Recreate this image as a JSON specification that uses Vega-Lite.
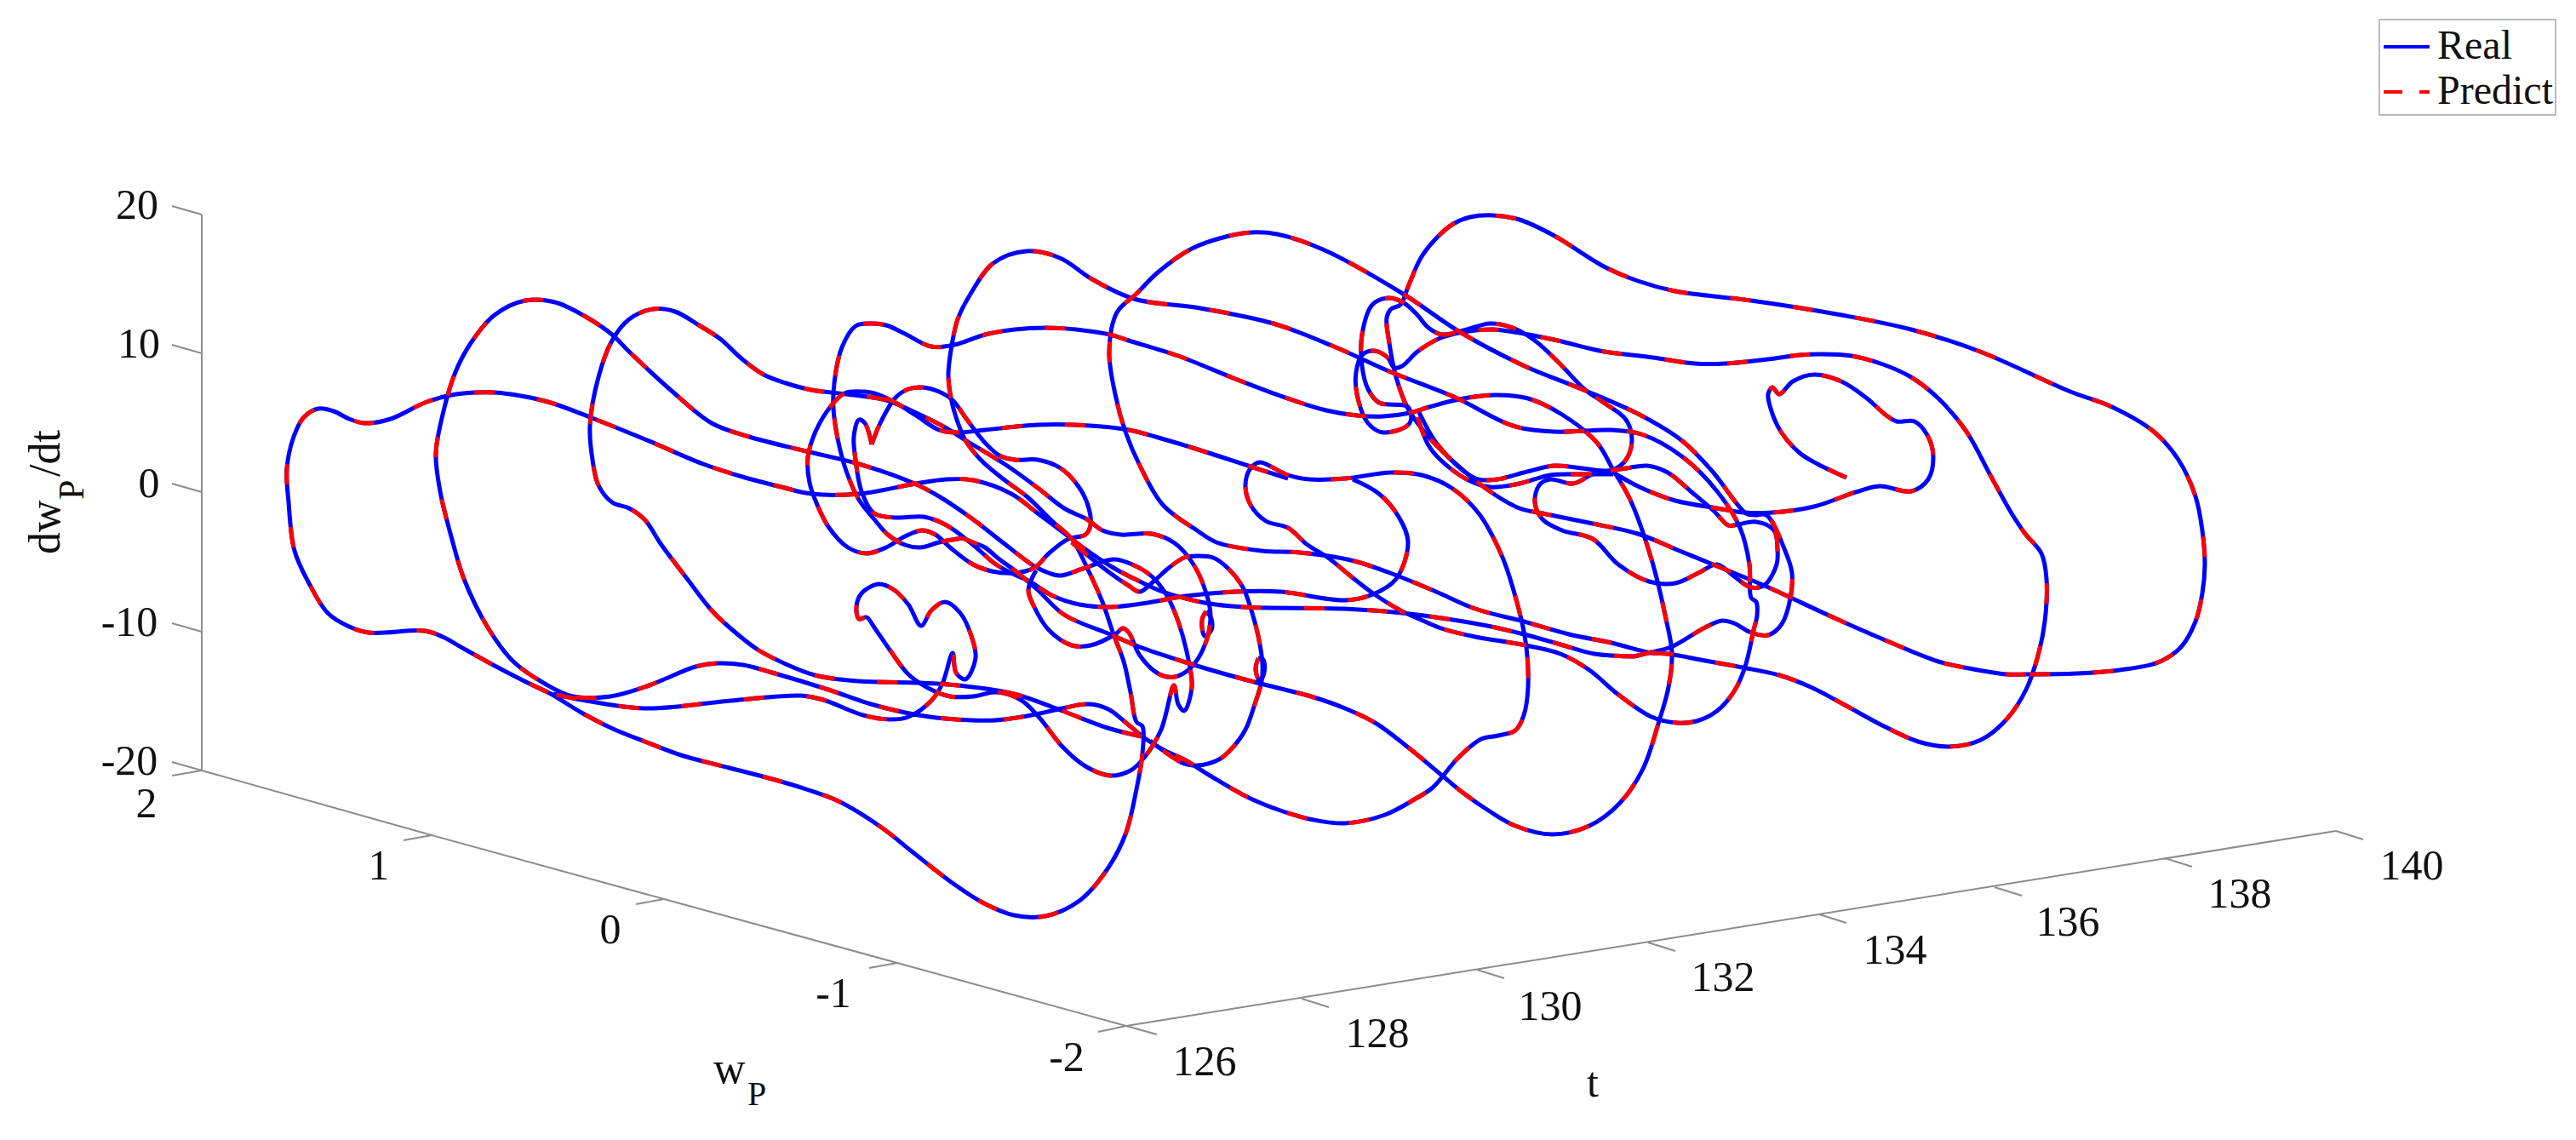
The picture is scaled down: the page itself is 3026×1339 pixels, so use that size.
{"$schema":"https://vega.github.io/schema/vega-lite/v6.json","width":3026,"height":1339,"padding":0,"autosize":{"type":"fit","contains":"padding"},"background":"white","config":{"view":{"stroke":null}},
"datasets":{"curve":[
{"s":"a","x":1920,"y":771},{"s":"a","x":1873,"y":768},{"s":"a","x":1833,"y":757},{"s":"a","x":1790,"y":745},{"s":"a","x":1747,"y":735},{"s":"a","x":1700,"y":727},{"s":"a","x":1647,"y":720},{"s":"a","x":1579,"y":715},{"s":"a","x":1460,"y":713},{"s":"a","x":1415,"y":708},{"s":"a","x":1366,"y":695},{"s":"a","x":1339,"y":683},{"s":"a","x":1308,"y":667},{"s":"a","x":1272,"y":643},{"s":"a","x":1255,"y":630},{"s":"a","x":1219,"y":603},{"s":"a","x":1188,"y":580},{"s":"a","x":1143,"y":564},{"s":"a","x":1112,"y":563},{"s":"a","x":1076,"y":568},{"s":"a","x":1010,"y":580},{"s":"a","x":953,"y":580},{"s":"a","x":918,"y":572},{"s":"a","x":872,"y":560},{"s":"a","x":826,"y":545},{"s":"a","x":760,"y":517},{"s":"a","x":693,"y":490},{"s":"a","x":647,"y":473},{"s":"a","x":612,"y":465},{"s":"a","x":581,"y":461},{"s":"a","x":558,"y":461},{"s":"a","x":530,"y":464},{"s":"a","x":499,"y":473},{"s":"a","x":459,"y":492},{"s":"a","x":428,"y":497},{"s":"a","x":410,"y":492},{"s":"a","x":392,"y":483},{"s":"a","x":374,"y":480},{"s":"a","x":357,"y":490},{"s":"a","x":345,"y":513},{"s":"a","x":337,"y":550},{"s":"a","x":339,"y":590},{"s":"a","x":346,"y":647},{"s":"a","x":364,"y":687},{"s":"a","x":385,"y":720},{"s":"a","x":408,"y":735},{"s":"a","x":433,"y":743},{"s":"a","x":499,"y":741},{"s":"a","x":520,"y":748},{"s":"a","x":545,"y":762},{"s":"a","x":583,"y":783},{"s":"a","x":622,"y":803},{"s":"a","x":647,"y":815},{"s":"a","x":683,"y":837},{"s":"a","x":720,"y":856},{"s":"a","x":760,"y":872},{"s":"a","x":800,"y":887},{"s":"a","x":857,"y":902},{"s":"a","x":907,"y":915},{"s":"a","x":947,"y":927},{"s":"a","x":987,"y":942},{"s":"a","x":1037,"y":973},{"s":"a","x":1071,"y":1000},{"s":"a","x":1120,"y":1038},{"s":"a","x":1154,"y":1060},{"s":"a","x":1191,"y":1075},{"s":"a","x":1228,"y":1076},{"s":"a","x":1268,"y":1058},{"s":"a","x":1300,"y":1022},{"s":"a","x":1322,"y":980},{"s":"a","x":1335,"y":927},{"s":"a","x":1342,"y":885},{"s":"a","x":1342,"y":853},{"s":"a","x":1335,"y":848},{"s":"a","x":1328,"y":813},{"s":"a","x":1320,"y":777},{"s":"a","x":1308,"y":745},{"s":"a","x":1295,"y":707},{"s":"a","x":1277,"y":667},{"s":"a","x":1259,"y":633},{"s":"a","x":1237,"y":613},{"s":"a","x":1206,"y":583},{"s":"a","x":1179,"y":563},{"s":"a","x":1152,"y":540},{"s":"a","x":1134,"y":517},{"s":"a","x":1123,"y":490},{"s":"a","x":1117,"y":467},{"s":"a","x":1114,"y":440},{"s":"a","x":1119,"y":400},{"s":"a","x":1125,"y":375},{"s":"a","x":1139,"y":347},{"s":"a","x":1167,"y":309},{"s":"a","x":1206,"y":295},{"s":"a","x":1245,"y":303},{"s":"a","x":1283,"y":328},{"s":"a","x":1332,"y":351},{"s":"a","x":1410,"y":362},{"s":"a","x":1496,"y":380},{"s":"a","x":1567,"y":407},{"s":"a","x":1634,"y":437},{"s":"a","x":1710,"y":467},{"s":"a","x":1777,"y":500},{"s":"a","x":1826,"y":507},{"s":"a","x":1892,"y":505},{"s":"a","x":1928,"y":510},{"s":"a","x":1977,"y":537},{"s":"a","x":2017,"y":577},{"s":"a","x":2044,"y":620},{"s":"a","x":2055,"y":663},{"s":"a","x":2057,"y":702},{"s":"a","x":2063,"y":707},{"s":"a","x":2064,"y":723},{"s":"a","x":2060,"y":740},{"s":"a","x":2050,"y":783},{"s":"a","x":2037,"y":812},{"s":"a","x":2017,"y":835},{"s":"a","x":1993,"y":847},{"s":"a","x":1970,"y":849},{"s":"a","x":1940,"y":842},{"s":"a","x":1900,"y":815},{"s":"a","x":1867,"y":787},{"s":"a","x":1833,"y":768},{"s":"a","x":1787,"y":757},{"s":"a","x":1733,"y":748},{"s":"a","x":1693,"y":738},{"s":"a","x":1667,"y":727},{"s":"a","x":1647,"y":718},{"s":"a","x":1613,"y":697},{"s":"a","x":1587,"y":677},{"s":"a","x":1560,"y":655},{"s":"a","x":1536,"y":640},{"s":"a","x":1513,"y":620},{"s":"a","x":1487,"y":612},{"s":"a","x":1469,"y":593},{"s":"a","x":1463,"y":570},{"s":"a","x":1469,"y":550},{"s":"a","x":1480,"y":543},{"s":"a","x":1491,"y":547},{"s":"a","x":1513,"y":558},{"s":"a","x":1538,"y":563},{"s":"a","x":1580,"y":562},{"s":"a","x":1634,"y":555},{"s":"a","x":1670,"y":558},{"s":"a","x":1705,"y":573},{"s":"a","x":1737,"y":603},{"s":"a","x":1763,"y":650},{"s":"a","x":1777,"y":690},{"s":"a","x":1792,"y":753},{"s":"a","x":1795,"y":807},{"s":"a","x":1790,"y":840},{"s":"a","x":1780,"y":858},{"s":"a","x":1760,"y":864},{"s":"a","x":1740,"y":868},{"s":"a","x":1713,"y":890},{"s":"a","x":1683,"y":925},{"s":"a","x":1663,"y":938},{"s":"a","x":1627,"y":957},{"s":"a","x":1580,"y":967},{"s":"a","x":1543,"y":963},{"s":"a","x":1507,"y":953},{"s":"a","x":1467,"y":937},{"s":"a","x":1423,"y":912},{"s":"a","x":1391,"y":892},{"s":"a","x":1369,"y":882},{"s":"a","x":1346,"y":868},{"s":"a","x":1324,"y":850},{"s":"a","x":1302,"y":833},{"s":"a","x":1279,"y":827},{"s":"a","x":1248,"y":832},{"s":"a","x":1212,"y":840},{"s":"a","x":1169,"y":846},{"s":"a","x":1123,"y":845},{"s":"a","x":1079,"y":840},{"s":"a","x":1023,"y":827},{"s":"a","x":973,"y":810},{"s":"a","x":907,"y":790},{"s":"a","x":873,"y":781},{"s":"a","x":843,"y":779},{"s":"a","x":817,"y":783},{"s":"a","x":780,"y":798},{"s":"a","x":757,"y":807},{"s":"a","x":717,"y":818},{"s":"a","x":673,"y":818},{"s":"a","x":640,"y":803},{"s":"a","x":603,"y":777},{"s":"a","x":573,"y":737},{"s":"a","x":545,"y":680},{"s":"a","x":530,"y":630},{"s":"a","x":517,"y":577},{"s":"a","x":512,"y":533},{"s":"a","x":520,"y":487},{"s":"a","x":535,"y":437},{"s":"a","x":553,"y":403},{"s":"a","x":581,"y":370},{"s":"a","x":617,"y":353},{"s":"a","x":652,"y":355},{"s":"a","x":688,"y":372},{"s":"a","x":719,"y":393},{"s":"a","x":739,"y":413},{"s":"a","x":790,"y":460},{"s":"a","x":836,"y":497},{"s":"a","x":880,"y":513},{"s":"a","x":947,"y":530},{"s":"a","x":1009,"y":545},{"s":"a","x":1072,"y":567},{"s":"a","x":1103,"y":583},{"s":"a","x":1143,"y":610},{"s":"a","x":1179,"y":638},{"s":"a","x":1215,"y":665},{"s":"a","x":1232,"y":673},{"s":"a","x":1246,"y":676},{"s":"a","x":1272,"y":668},{"s":"a","x":1308,"y":657},{"s":"a","x":1330,"y":663},{"s":"a","x":1353,"y":677},{"s":"a","x":1371,"y":700},{"s":"a","x":1384,"y":730},{"s":"a","x":1395,"y":770},{"s":"a","x":1400,"y":807},{"s":"a","x":1391,"y":835},{"s":"a","x":1384,"y":827},{"s":"a","x":1379,"y":805},{"s":"a","x":1364,"y":857},{"s":"a","x":1344,"y":890},{"s":"a","x":1328,"y":905},{"s":"a","x":1304,"y":911},{"s":"a","x":1275,"y":900},{"s":"a","x":1248,"y":877},{"s":"a","x":1221,"y":843},{"s":"a","x":1199,"y":822},{"s":"a","x":1170,"y":813},{"s":"a","x":1143,"y":818},{"s":"a","x":1116,"y":818},{"s":"a","x":1090,"y":808},{"s":"a","x":1067,"y":792},{"s":"a","x":1045,"y":763},{"s":"a","x":1027,"y":737},{"s":"a","x":1018,"y":725},{"s":"a","x":1009,"y":727},{"s":"a","x":1006,"y":713},{"s":"a","x":1012,"y":697},{"s":"a","x":1032,"y":686},{"s":"a","x":1049,"y":692},{"s":"a","x":1067,"y":710},{"s":"a","x":1082,"y":735},{"s":"a","x":1094,"y":717},{"s":"a","x":1110,"y":707},{"s":"a","x":1128,"y":720},{"s":"a","x":1141,"y":747},{"s":"a","x":1146,"y":773},{"s":"a","x":1134,"y":798},{"s":"a","x":1123,"y":790},{"s":"a","x":1119,"y":767},{"s":"a","x":1107,"y":803},{"s":"a","x":1094,"y":823},{"s":"a","x":1067,"y":842},{"s":"a","x":1045,"y":845},{"s":"a","x":1014,"y":840},{"s":"a","x":967,"y":822},{"s":"a","x":940,"y":817},{"s":"a","x":880,"y":821},{"s":"a","x":840,"y":825},{"s":"a","x":757,"y":832},{"s":"a","x":683,"y":822},{"s":"a","x":650,"y":815},
{"s":"b","x":1920,"y":771},{"s":"b","x":1940,"y":766},{"s":"b","x":1963,"y":760},{"s":"b","x":2003,"y":737},{"s":"b","x":2023,"y":729},{"s":"b","x":2037,"y":732},{"s":"b","x":2057,"y":743},{"s":"b","x":2077,"y":746},{"s":"b","x":2093,"y":733},{"s":"b","x":2103,"y":703},{"s":"b","x":2105,"y":673},{"s":"b","x":2097,"y":647},{"s":"b","x":2075,"y":605},{"s":"b","x":2061,"y":605},{"s":"b","x":2051,"y":603},{"s":"b","x":2011,"y":553},{"s":"b","x":1975,"y":517},{"s":"b","x":1926,"y":487},{"s":"b","x":1858,"y":457},{"s":"b","x":1791,"y":430},{"s":"b","x":1715,"y":390},{"s":"b","x":1648,"y":345},{"s":"b","x":1554,"y":293},{"s":"b","x":1500,"y":275},{"s":"b","x":1470,"y":273},{"s":"b","x":1440,"y":278},{"s":"b","x":1400,"y":292},{"s":"b","x":1360,"y":320},{"s":"b","x":1335,"y":345},{"s":"b","x":1312,"y":367},{"s":"b","x":1303,"y":413},{"s":"b","x":1310,"y":463},{"s":"b","x":1322,"y":507},{"s":"b","x":1339,"y":547},{"s":"b","x":1366,"y":593},{"s":"b","x":1406,"y":623},{"s":"b","x":1429,"y":637},{"s":"b","x":1482,"y":647},{"s":"b","x":1527,"y":649},{"s":"b","x":1587,"y":658},{"s":"b","x":1633,"y":673},{"s":"b","x":1687,"y":695},{"s":"b","x":1733,"y":715},{"s":"b","x":1790,"y":730},{"s":"b","x":1843,"y":745},{"s":"b","x":1893,"y":755},{"s":"b","x":1940,"y":767},{"s":"b","x":1960,"y":768},{"s":"b","x":2003,"y":776},{"s":"b","x":2047,"y":784},{"s":"b","x":2090,"y":793},{"s":"b","x":2127,"y":807},{"s":"b","x":2167,"y":828},{"s":"b","x":2213,"y":853},{"s":"b","x":2253,"y":871},{"s":"b","x":2290,"y":877},{"s":"b","x":2327,"y":869},{"s":"b","x":2357,"y":845},{"s":"b","x":2380,"y":810},{"s":"b","x":2394,"y":770},{"s":"b","x":2402,"y":730},{"s":"b","x":2404,"y":680},{"s":"b","x":2398,"y":650},{"s":"b","x":2379,"y":627},{"s":"b","x":2363,"y":603},{"s":"b","x":2339,"y":560},{"s":"b","x":2310,"y":507},{"s":"b","x":2277,"y":468},{"s":"b","x":2245,"y":443},{"s":"b","x":2212,"y":428},{"s":"b","x":2175,"y":418},{"s":"b","x":2139,"y":416},{"s":"b","x":2114,"y":417},{"s":"b","x":2076,"y":422},{"s":"b","x":2027,"y":427},{"s":"b","x":1991,"y":427},{"s":"b","x":1942,"y":420},{"s":"b","x":1879,"y":412},{"s":"b","x":1830,"y":400},{"s":"b","x":1790,"y":392},{"s":"b","x":1754,"y":387},{"s":"b","x":1719,"y":390},{"s":"b","x":1692,"y":397},{"s":"b","x":1665,"y":413},{"s":"b","x":1647,"y":430},{"s":"b","x":1638,"y":432},{"s":"b","x":1630,"y":420},{"s":"b","x":1614,"y":412},{"s":"b","x":1600,"y":417},{"s":"b","x":1593,"y":437},{"s":"b","x":1594,"y":463},{"s":"b","x":1607,"y":497},{"s":"b","x":1625,"y":508},{"s":"b","x":1656,"y":497},{"s":"b","x":1654,"y":478},{"s":"b","x":1620,"y":473},{"s":"b","x":1607,"y":457},{"s":"b","x":1600,"y":430},{"s":"b","x":1600,"y":393},{"s":"b","x":1612,"y":358},{"s":"b","x":1630,"y":350},{"s":"b","x":1648,"y":355},{"s":"b","x":1665,"y":370},{"s":"b","x":1678,"y":385},{"s":"b","x":1694,"y":393},{"s":"b","x":1723,"y":387},{"s":"b","x":1750,"y":380},{"s":"b","x":1777,"y":385},{"s":"b","x":1803,"y":400},{"s":"b","x":1835,"y":430},{"s":"b","x":1861,"y":457},{"s":"b","x":1884,"y":473},{"s":"b","x":1910,"y":493},{"s":"b","x":1917,"y":517},{"s":"b","x":1910,"y":540},{"s":"b","x":1895,"y":552},{"s":"b","x":1871,"y":557},{"s":"b","x":1848,"y":568},{"s":"b","x":1821,"y":563},{"s":"b","x":1808,"y":570},{"s":"b","x":1803,"y":590},{"s":"b","x":1812,"y":610},{"s":"b","x":1835,"y":623},{"s":"b","x":1871,"y":633},{"s":"b","x":1901,"y":663},{"s":"b","x":1937,"y":683},{"s":"b","x":1968,"y":685},{"s":"b","x":1995,"y":673},{"s":"b","x":2017,"y":663},{"s":"b","x":2037,"y":677},{"s":"b","x":2057,"y":690},{"s":"b","x":2073,"y":687},{"s":"b","x":2087,"y":663},{"s":"b","x":2088,"y":645},{"s":"b","x":2084,"y":623},{"s":"b","x":2063,"y":613},{"s":"b","x":2037,"y":617},{"s":"b","x":2030,"y":617},{"s":"b","x":2013,"y":600},{"s":"b","x":1986,"y":577},{"s":"b","x":1959,"y":555},{"s":"b","x":1935,"y":547},{"s":"b","x":1910,"y":550},{"s":"b","x":1884,"y":553},{"s":"b","x":1858,"y":550},{"s":"b","x":1826,"y":547},{"s":"b","x":1790,"y":555},{"s":"b","x":1759,"y":563},{"s":"b","x":1736,"y":563},{"s":"b","x":1719,"y":553},{"s":"b","x":1687,"y":520},{"s":"b","x":1665,"y":480},
{"s":"c","x":1665,"y":490},{"s":"c","x":1678,"y":523},{"s":"c","x":1692,"y":540},{"s":"c","x":1723,"y":563},{"s":"c","x":1750,"y":572},{"s":"c","x":1785,"y":568},{"s":"c","x":1821,"y":558},{"s":"c","x":1857,"y":557},{"s":"c","x":1895,"y":557},
{"s":"d","x":2380,"y":792},{"s":"d","x":2357,"y":792},{"s":"d","x":2313,"y":785},{"s":"d","x":2277,"y":777},{"s":"d","x":2210,"y":750},{"s":"d","x":2153,"y":725},{"s":"d","x":2073,"y":688},{"s":"d","x":2022,"y":667},{"s":"d","x":1973,"y":647},{"s":"d","x":1924,"y":627},{"s":"d","x":1871,"y":615},{"s":"d","x":1812,"y":603},{"s":"d","x":1785,"y":597},{"s":"d","x":1750,"y":577},{"s":"d","x":1705,"y":540},{"s":"d","x":1678,"y":513},{"s":"d","x":1654,"y":480},{"s":"d","x":1640,"y":443},{"s":"d","x":1632,"y":403},{"s":"d","x":1629,"y":373},{"s":"d","x":1634,"y":363},{"s":"d","x":1645,"y":358},{"s":"d","x":1654,"y":337},{"s":"d","x":1669,"y":303},{"s":"d","x":1687,"y":280},{"s":"d","x":1707,"y":263},{"s":"d","x":1727,"y":255},{"s":"d","x":1754,"y":253},{"s":"d","x":1785,"y":258},{"s":"d","x":1826,"y":277},{"s":"d","x":1884,"y":313},{"s":"d","x":1924,"y":330},{"s":"d","x":1968,"y":342},{"s":"d","x":2057,"y":353},{"s":"d","x":2163,"y":370},{"s":"d","x":2245,"y":387},{"s":"d","x":2326,"y":413},{"s":"d","x":2432,"y":460},{"s":"d","x":2481,"y":478},{"s":"d","x":2530,"y":507},{"s":"d","x":2559,"y":540},{"s":"d","x":2579,"y":583},{"s":"d","x":2587,"y":623},{"s":"d","x":2590,"y":663},{"s":"d","x":2587,"y":697},{"s":"d","x":2579,"y":730},{"s":"d","x":2562,"y":760},{"s":"d","x":2535,"y":778},{"s":"d","x":2490,"y":787},{"s":"d","x":2440,"y":791},{"s":"d","x":2380,"y":792},
{"s":"e","x":2169,"y":561},{"s":"e","x":2135,"y":545},{"s":"e","x":2114,"y":532},{"s":"e","x":2092,"y":507},{"s":"e","x":2080,"y":480},{"s":"e","x":2077,"y":463},{"s":"e","x":2082,"y":455},{"s":"e","x":2090,"y":463},{"s":"e","x":2106,"y":448},{"s":"e","x":2131,"y":440},{"s":"e","x":2163,"y":448},{"s":"e","x":2192,"y":467},{"s":"e","x":2216,"y":488},{"s":"e","x":2228,"y":495},{"s":"e","x":2249,"y":495},{"s":"e","x":2265,"y":513},{"s":"e","x":2271,"y":537},{"s":"e","x":2265,"y":563},{"s":"e","x":2245,"y":577},{"s":"e","x":2208,"y":571},{"s":"e","x":2180,"y":578},{"s":"e","x":2131,"y":595},{"s":"e","x":2082,"y":602},{"s":"e","x":2049,"y":602},{"s":"e","x":2017,"y":597},{"s":"e","x":1968,"y":588},{"s":"e","x":1928,"y":573},{"s":"e","x":1895,"y":555},
{"s":"f","x":1130,"y":632},{"s":"f","x":1103,"y":637},{"s":"f","x":1081,"y":643},{"s":"f","x":1063,"y":640},{"s":"f","x":1043,"y":628},{"s":"f","x":1027,"y":610},{"s":"f","x":1009,"y":587},{"s":"f","x":994,"y":553},{"s":"f","x":985,"y":520},{"s":"f","x":979,"y":480},{"s":"f","x":980,"y":450},{"s":"f","x":989,"y":408},{"s":"f","x":1005,"y":383},{"s":"f","x":1023,"y":380},{"s":"f","x":1041,"y":382},{"s":"f","x":1063,"y":392},{"s":"f","x":1094,"y":407},{"s":"f","x":1121,"y":405},{"s":"f","x":1157,"y":393},{"s":"f","x":1192,"y":387},{"s":"f","x":1228,"y":385},{"s":"f","x":1264,"y":387},{"s":"f","x":1304,"y":393},{"s":"f","x":1326,"y":400},{"s":"f","x":1384,"y":418},{"s":"f","x":1451,"y":445},{"s":"f","x":1504,"y":465},{"s":"f","x":1558,"y":482},{"s":"f","x":1594,"y":488},{"s":"f","x":1625,"y":489},{"s":"f","x":1656,"y":485},{"s":"f","x":1679,"y":478},{"s":"f","x":1714,"y":469},{"s":"f","x":1757,"y":464},{"s":"f","x":1795,"y":468},{"s":"f","x":1835,"y":487},{"s":"f","x":1876,"y":520},{"s":"f","x":1895,"y":552},{"s":"f","x":1915,"y":587},{"s":"f","x":1940,"y":657},{"s":"f","x":1957,"y":727},{"s":"f","x":1964,"y":767},{"s":"f","x":1960,"y":807},{"s":"f","x":1948,"y":850},{"s":"f","x":1930,"y":903},{"s":"f","x":1903,"y":943},{"s":"f","x":1867,"y":970},{"s":"f","x":1823,"y":980},{"s":"f","x":1780,"y":970},{"s":"f","x":1750,"y":953},{"s":"f","x":1717,"y":930},{"s":"f","x":1693,"y":910},{"s":"f","x":1653,"y":877},{"s":"f","x":1617,"y":850},{"s":"f","x":1580,"y":832},{"s":"f","x":1540,"y":818},{"s":"f","x":1477,"y":802},{"s":"f","x":1433,"y":790},{"s":"f","x":1393,"y":778},{"s":"f","x":1339,"y":760},{"s":"f","x":1304,"y":745},{"s":"f","x":1250,"y":722},{"s":"f","x":1219,"y":693},{"s":"f","x":1192,"y":670},{"s":"f","x":1174,"y":657},{"s":"f","x":1157,"y":643},{"s":"f","x":1143,"y":637},{"s":"f","x":1130,"y":632},
{"s":"g","x":1341,"y":865},{"s":"g","x":1301,"y":855},{"s":"g","x":1248,"y":835},{"s":"g","x":1191,"y":815},{"s":"g","x":1125,"y":805},{"s":"g","x":1081,"y":802},{"s":"g","x":1007,"y":800},{"s":"g","x":957,"y":793},{"s":"g","x":923,"y":780},{"s":"g","x":890,"y":763},{"s":"g","x":857,"y":737},{"s":"g","x":836,"y":717},{"s":"g","x":805,"y":677},{"s":"g","x":777,"y":640},{"s":"g","x":757,"y":610},{"s":"g","x":739,"y":597},{"s":"g","x":719,"y":590},{"s":"g","x":703,"y":570},{"s":"g","x":696,"y":540},{"s":"g","x":693,"y":500},{"s":"g","x":703,"y":443},{"s":"g","x":719,"y":400},{"s":"g","x":739,"y":375},{"s":"g","x":767,"y":363},{"s":"g","x":793,"y":366},{"s":"g","x":821,"y":382},{"s":"g","x":846,"y":398},{"s":"g","x":872,"y":422},{"s":"g","x":897,"y":440},{"s":"g","x":923,"y":450},{"s":"g","x":953,"y":458},{"s":"g","x":994,"y":463},{"s":"g","x":1041,"y":470},{"s":"g","x":1072,"y":483},{"s":"g","x":1112,"y":503},{"s":"g","x":1134,"y":517},{"s":"g","x":1183,"y":547},{"s":"g","x":1219,"y":573},{"s":"g","x":1250,"y":597},{"s":"g","x":1277,"y":610},{"s":"g","x":1295,"y":623},{"s":"g","x":1317,"y":628},{"s":"g","x":1353,"y":627},{"s":"g","x":1380,"y":638},{"s":"g","x":1402,"y":663},{"s":"g","x":1417,"y":697},{"s":"g","x":1422,"y":723},{"s":"g","x":1417,"y":753},{"s":"g","x":1400,"y":783},{"s":"g","x":1380,"y":795},{"s":"g","x":1362,"y":792},{"s":"g","x":1339,"y":770},{"s":"g","x":1326,"y":743},{"s":"g","x":1319,"y":738},{"s":"g","x":1310,"y":745},{"s":"g","x":1281,"y":758},{"s":"g","x":1259,"y":758},{"s":"g","x":1232,"y":740},{"s":"g","x":1215,"y":713},{"s":"g","x":1208,"y":693},{"s":"g","x":1217,"y":670},
{"s":"h","x":1024,"y":522},{"s":"h","x":1034,"y":497},{"s":"h","x":1052,"y":467},{"s":"h","x":1067,"y":457},{"s":"h","x":1083,"y":455},{"s":"h","x":1103,"y":460},{"s":"h","x":1119,"y":470},{"s":"h","x":1136,"y":493},{"s":"h","x":1157,"y":520},{"s":"h","x":1174,"y":535},{"s":"h","x":1192,"y":540},{"s":"h","x":1219,"y":540},{"s":"h","x":1246,"y":550},{"s":"h","x":1268,"y":573},{"s":"h","x":1279,"y":597},{"s":"h","x":1281,"y":617},{"s":"h","x":1275,"y":628},{"s":"h","x":1255,"y":633},{"s":"h","x":1232,"y":650},{"s":"h","x":1215,"y":667},{"s":"h","x":1192,"y":673},{"s":"h","x":1165,"y":671},{"s":"h","x":1143,"y":663},{"s":"h","x":1116,"y":643},{"s":"h","x":1099,"y":628},{"s":"h","x":1083,"y":623},{"s":"h","x":1063,"y":630},{"s":"h","x":1041,"y":643},{"s":"h","x":1018,"y":650},{"s":"h","x":996,"y":643},{"s":"h","x":974,"y":620},{"s":"h","x":960,"y":593},{"s":"h","x":951,"y":567},{"s":"h","x":949,"y":537},{"s":"h","x":958,"y":507},{"s":"h","x":976,"y":477},{"s":"h","x":992,"y":462},{"s":"h","x":1014,"y":460},{"s":"h","x":1027,"y":462},{"s":"h","x":1052,"y":473},{"s":"h","x":1076,"y":488},{"s":"h","x":1103,"y":505},{"s":"h","x":1123,"y":508},{"s":"h","x":1157,"y":505},{"s":"h","x":1219,"y":499},{"s":"h","x":1281,"y":500},{"s":"h","x":1326,"y":505},{"s":"h","x":1371,"y":517},{"s":"h","x":1420,"y":532},{"s":"h","x":1469,"y":548},{"s":"h","x":1513,"y":562},
{"s":"i","x":1024,"y":522},{"s":"i","x":1016,"y":497},{"s":"i","x":1009,"y":493},{"s":"i","x":1003,"y":513},{"s":"i","x":1005,"y":540},{"s":"i","x":1012,"y":577},{"s":"i","x":1027,"y":603},{"s":"i","x":1054,"y":608},{"s":"i","x":1085,"y":607},{"s":"i","x":1112,"y":617},{"s":"i","x":1143,"y":640},{"s":"i","x":1170,"y":663},{"s":"i","x":1192,"y":675},{"s":"i","x":1208,"y":682},{"s":"i","x":1237,"y":700},{"s":"i","x":1268,"y":710},{"s":"i","x":1304,"y":713},{"s":"i","x":1348,"y":708},{"s":"i","x":1393,"y":700},{"s":"i","x":1451,"y":695},{"s":"i","x":1504,"y":695},{"s":"i","x":1580,"y":705},{"s":"i","x":1613,"y":698},{"s":"i","x":1640,"y":680},{"s":"i","x":1654,"y":637},{"s":"i","x":1643,"y":607},{"s":"i","x":1620,"y":580},{"s":"i","x":1589,"y":563},
{"s":"j","x":1417,"y":718},{"s":"j","x":1412,"y":728},{"s":"j","x":1415,"y":747},{"s":"j","x":1423,"y":740},{"s":"j","x":1423,"y":727},{"s":"j","x":1417,"y":718},
{"s":"k","x":1478,"y":773},{"s":"k","x":1475,"y":787},{"s":"k","x":1480,"y":800},{"s":"k","x":1485,"y":790},{"s":"k","x":1484,"y":775},{"s":"k","x":1478,"y":773},
{"s":"l","x":1259,"y":637},{"s":"l","x":1281,"y":655},{"s":"l","x":1304,"y":673},{"s":"l","x":1326,"y":688},{"s":"l","x":1339,"y":695},{"s":"l","x":1355,"y":683},{"s":"l","x":1373,"y":667},{"s":"l","x":1391,"y":655},{"s":"l","x":1407,"y":653},{"s":"l","x":1425,"y":655},{"s":"l","x":1443,"y":668},{"s":"l","x":1460,"y":690},{"s":"l","x":1470,"y":717},{"s":"l","x":1478,"y":747},{"s":"l","x":1483,"y":780},{"s":"l","x":1482,"y":800},{"s":"l","x":1473,"y":830},{"s":"l","x":1463,"y":857},{"s":"l","x":1448,"y":878},{"s":"l","x":1432,"y":892},{"s":"l","x":1407,"y":899},{"s":"l","x":1391,"y":897},{"s":"l","x":1364,"y":880},{"s":"l","x":1351,"y":870}
],
"axes":[
{"s":"z","x":237,"y":252},{"s":"z","x":237,"y":905},
{"s":"w","x":237,"y":905},{"s":"w","x":507,"y":981},{"s":"w","x":780,"y":1056},{"s":"w","x":1054,"y":1131},{"s":"w","x":1323,"y":1205},
{"s":"t","x":1323,"y":1205},{"s":"t","x":2744,"y":976},
{"s":"z20","x":237,"y":252},{"s":"z20","x":202,"y":242},{"s":"z10","x":237,"y":415},{"s":"z10","x":202,"y":405},{"s":"z0","x":237,"y":578},{"s":"z0","x":202,"y":568},{"s":"z-10","x":237,"y":742},{"s":"z-10","x":202,"y":732},{"s":"z-20","x":237,"y":905},{"s":"z-20","x":202,"y":895},
{"s":"w2","x":237,"y":905},{"s":"w2","x":202,"y":911},{"s":"w1","x":507,"y":981},{"s":"w1","x":474,"y":987},{"s":"w0","x":780,"y":1056},{"s":"w0","x":747,"y":1062},{"s":"w-1","x":1054,"y":1131},{"s":"w-1","x":1021,"y":1137},{"s":"w-2","x":1323,"y":1205},{"s":"w-2","x":1290,"y":1212},
{"s":"t126","x":1323,"y":1205},{"s":"t126","x":1359,"y":1215},{"s":"t128","x":1529,"y":1173},{"s":"t128","x":1561,"y":1183},{"s":"t130","x":1735,"y":1139},{"s":"t130","x":1767,"y":1149},{"s":"t132","x":1936,"y":1107},{"s":"t132","x":1968,"y":1117},{"s":"t134","x":2137,"y":1074},{"s":"t134","x":2169,"y":1084},{"s":"t136","x":2343,"y":1042},{"s":"t136","x":2375,"y":1052},{"s":"t138","x":2543,"y":1008},{"s":"t138","x":2575,"y":1018},{"s":"t140","x":2744,"y":976},{"s":"t140","x":2776,"y":986}
],
"labels":[
{"x":161,"y":242,"text":"20"},{"x":163,"y":405,"text":"10"},{"x":175,"y":569,"text":"0"},{"x":152,"y":732,"text":"-10"},{"x":152,"y":895,"text":"-20"},
{"x":172,"y":945,"text":"2"},{"x":445,"y":1018,"text":"1"},{"x":717,"y":1093,"text":"0"},{"x":979,"y":1168,"text":"-1"},{"x":1253,"y":1243,"text":"-2"},
{"x":1415,"y":1248,"text":"126"},{"x":1618,"y":1215,"text":"128"},{"x":1821,"y":1183,"text":"130"},{"x":2024,"y":1149,"text":"132"},{"x":2226,"y":1117,"text":"134"},{"x":2429,"y":1084,"text":"136"},{"x":2631,"y":1051,"text":"138"},{"x":2833,"y":1018,"text":"140"},
{"x":1871,"y":1273,"text":"t"}
]},
"encoding":{
"x":{"field":"x","type":"quantitative","scale":{"domain":[0,3026]},"axis":null},
"y":{"field":"y","type":"quantitative","scale":{"domain":[1339,0]},"axis":null}
},
"layer":[
{"data":{"name":"axes"},"mark":{"type":"line","stroke":"#8c8c8c","strokeWidth":2,"order":false},"encoding":{"detail":{"field":"s"}}},
{"data":{"name":"curve"},"mark":{"type":"line","interpolate":"catmull-rom","strokeWidth":5,"order":false},"encoding":{"detail":{"field":"s"},
"color":{"datum":"Real","type":"nominal","title":null,"scale":{"domain":["Real","Predict"],"range":["#0000ff","#ff0000"]},
"legend":{"orient":"none","legendX":2795,"legendY":23,"title":null,"symbolType":"stroke","symbolSize":2900,"symbolStrokeWidth":4,"labelFont":"Liberation Serif","labelFontSize":48,"labelColor":"#111111","labelOffset":7,"strokeColor":"#bbbbbb","padding":3,"rowPadding":-5,"labelLimit":300,"encode":{"legend":{"update":{"strokeWidth":{"value":2}}},"symbols":{"update":{"strokeDash":{"signal":"datum.value==='Predict'?[22,20]:[1,0]"}}}}}}}},
{"data":{"name":"curve"},"mark":{"type":"line","interpolate":"catmull-rom","strokeWidth":5,"strokeDash":[24,50],"order":false},"encoding":{"detail":{"field":"s"},
"color":{"datum":"Predict","type":"nominal"}}},
{"data":{"name":"labels"},"mark":{"type":"text","font":"Liberation Serif","fontSize":50,"color":"#111111","align":"center","baseline":"middle"},"encoding":{"text":{"field":"text"}}},
{"data":{"values":[{"x":838,"y":1272,"text":"w"}]},"mark":{"type":"text","font":"Liberation Serif","fontSize":52,"color":"#111111","align":"left","baseline":"alphabetic"},"encoding":{"text":{"field":"text"}}},
{"data":{"values":[{"x":878,"y":1298,"text":"P"}]},"mark":{"type":"text","font":"Liberation Serif","fontSize":40,"color":"#111111","align":"left","baseline":"alphabetic"},"encoding":{"text":{"field":"text"}}},
{"data":{"values":[{"x":70,"y":651,"text":"dw"},{"x":70,"y":560,"text":"/dt"}]},"mark":{"type":"text","font":"Liberation Serif","fontSize":52,"color":"#111111","align":"left","baseline":"alphabetic","angle":270},"encoding":{"text":{"field":"text"}}},
{"data":{"values":[{"x":98,"y":587,"text":"P"}]},"mark":{"type":"text","font":"Liberation Serif","fontSize":42,"color":"#111111","align":"left","baseline":"alphabetic","angle":270},"encoding":{"text":{"field":"text"}}}
]}
